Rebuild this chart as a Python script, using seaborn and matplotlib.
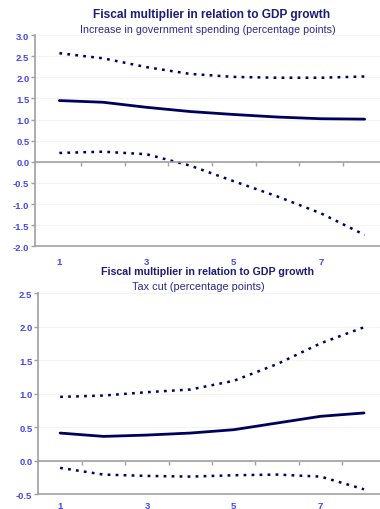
import numpy as np
import pandas as pd
import matplotlib
matplotlib.use("Agg")
import matplotlib.pyplot as plt
import seaborn as sns

sns.set_theme(style="white")
plt.rcParams["font.family"] = ["Liberation Sans", "DejaVu Sans"]

# Horizon (periods after the shock)
periods = [1, 2, 3, 4, 5, 6, 7, 8]
label_periods = [1, 3, 5, 7]

# Government spending increase: point estimate and confidence band
spend_mid = [1.45, 1.41, 1.29, 1.19, 1.12, 1.06, 1.02, 1.01]
spend_hi = [2.57, 2.45, 2.24, 2.08, 2.01, 1.99, 1.99, 2.02]
spend_lo = [0.21, 0.24, 0.18, -0.09, -0.46, -0.82, -1.22, -1.73]

# Tax cut: point estimate and confidence band
tax_mid = [0.41, 0.36, 0.38, 0.41, 0.46, 0.56, 0.66, 0.71]
tax_hi = [0.95, 0.97, 1.02, 1.06, 1.19, 1.44, 1.75, 1.99]
tax_lo = [-0.11, -0.21, -0.23, -0.24, -0.22, -0.21, -0.24, -0.43]

title = "Fiscal multiplier in relation to GDP growth"
sub_top = "Increase in government spending (percentage points)"
sub_bottom = "Tax cut (percentage points)"

NAVY = "#00005e"
TICK_BLUE = "#4646f0"
TITLE_COL = "#1c1c78"
SUB_COL = "#2a2a8c"
AXIS_GREY = "#a0a0a0"


def frame(mid, hi, lo):
    rows = []
    for name, vals in (("estimate", mid), ("upper", hi), ("lower", lo)):
        for p, v in zip(periods, vals):
            rows.append({"period": p, "value": v, "series": name})
    return pd.DataFrame(rows)


def draw(ax, df, ylim, yticks, xlim, label_pad):
    sns.lineplot(
        data=df, x="period", y="value", hue="series", style="series",
        palette={"estimate": NAVY, "upper": NAVY, "lower": NAVY},
        dashes={"estimate": "", "upper": (1.1, 2.1), "lower": (1.1, 2.1)},
        linewidth=1.8, legend=False, ax=ax,
    )
    for line in ax.get_lines()[:1]:
        line.set_linewidth(2.0)
    ax.set_xlim(*xlim)
    ax.set_ylim(*ylim)
    ax.set_yticks(yticks)
    ax.set_yticklabels([f"{t:.1f}" for t in yticks])
    ax.set_xlabel("")
    ax.set_ylabel("")
    ax.grid(axis="y", color="#f3f3f3", linewidth=0.8)
    ax.set_axisbelow(True)

    for s in ("top", "right"):
        ax.spines[s].set_visible(False)
    ax.spines["left"].set_color(AXIS_GREY)
    ax.spines["left"].set_linewidth(1.2)
    # zero line with ticks on category boundaries
    ax.spines["bottom"].set_position(("data", 0))
    ax.spines["bottom"].set_color(AXIS_GREY)
    ax.spines["bottom"].set_linewidth(1.2)
    ax.set_xticks([p + 0.5 for p in periods[:-1]])
    ax.tick_params(axis="x", direction="out", length=3, width=1,
                   color=AXIS_GREY, labelbottom=False, bottom=True)
    ax.tick_params(axis="y", direction="out", length=3, width=1,
                   color=AXIS_GREY, labelsize=6.8, labelcolor=TICK_BLUE,
                   pad=1, left=True)
    for lab in ax.get_yticklabels():
        lab.set_fontweight("bold")

    # category labels along the bottom edge
    sec = ax.secondary_xaxis(0.0)
    sec.set_xticks(label_periods)
    sec.set_xticklabels([str(p) for p in label_periods])
    sec.spines["bottom"].set_color(AXIS_GREY)
    sec.spines["bottom"].set_linewidth(1.2)
    sec.tick_params(axis="x", length=0, pad=label_pad, labelsize=6.8,
                    labelcolor=TICK_BLUE)
    for lab in sec.get_xticklabels():
        lab.set_fontweight("bold")


fig = plt.figure(figsize=(3.8, 5.1), dpi=100)
fig.patch.set_facecolor("white")

ax1 = fig.add_axes([0.092, 0.515, 0.925, 0.4143])
draw(ax1, frame(spend_mid, spend_hi, spend_lo), (-2.0, 3.0),
     np.arange(-2.0, 3.01, 0.5), (0.44, 8.5), 8)

ax2 = fig.add_axes([0.100, 0.0294, 0.915, 0.394])
draw(ax2, frame(tax_mid, tax_hi, tax_lo), (-0.5, 2.5),
     np.arange(-0.5, 2.51, 0.5), (0.49, 8.5), 5)

fig.text(0.558, 0.970, title, ha="center", va="center",
         fontsize=8.6, fontweight="bold", color=TITLE_COL)
fig.text(0.547, 0.941, sub_top, ha="center", va="center",
         fontsize=7.7, color=SUB_COL)
fig.text(0.545, 0.467, title, ha="center", va="center",
         fontsize=7.7, fontweight="bold", color=TITLE_COL)
fig.text(0.521, 0.437, sub_bottom, ha="center", va="center",
         fontsize=7.8, color=SUB_COL)

fig.savefig("out.png", dpi=100, facecolor="white")
